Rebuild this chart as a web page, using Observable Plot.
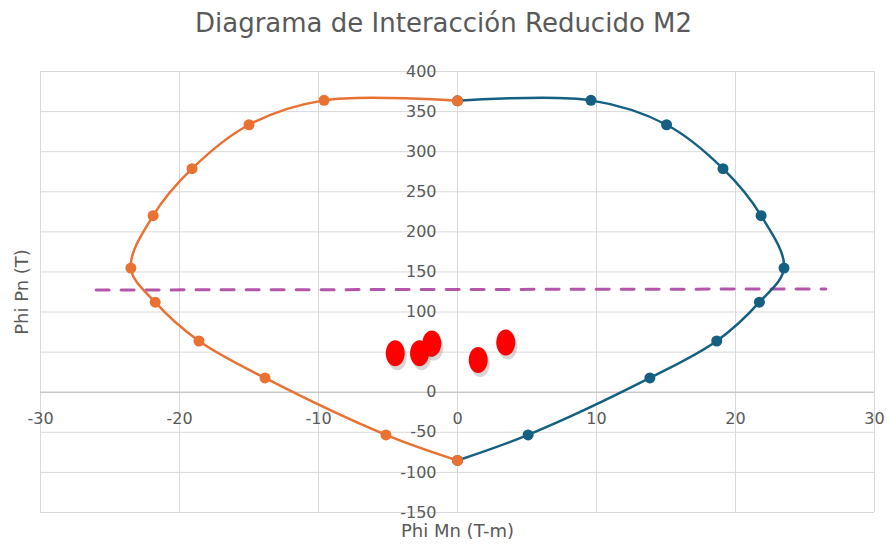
<!DOCTYPE html>
<html>
<head>
<meta charset="utf-8">
<script src="https://cdn.jsdelivr.net/npm/d3@7"></script>
<script src="https://cdn.jsdelivr.net/npm/@observablehq/plot@0.6"></script>
<style>
  html, body { margin: 0; padding: 0; background: #fff; }
  #title { height: 50px; line-height: 46px; text-align: center; font-family: "DejaVu Sans", sans-serif; font-size: 26px; color: #595959; white-space: nowrap; }
  svg { display: block; }
</style>
</head>
<body>
<div id="title">Diagrama de Interacción Reducido M2</div>
<div id="chart"></div>
<script>
// Left branch (orange), Phi Mn (T-m) and Phi Pn (T)
const orangeM = [0, -9.6, -15.0, -19.1, -21.9, -23.5, -21.75, -18.6, -13.85, -5.15, 0];
const orangeP = [363.5, 364, 333.6, 278.8, 220.2, 154.9, 112.3, 63.9, 17.8, -53.2, -85.1];
// Right branch (blue)
const blueM = [0, 9.6, 15.04, 19.1, 21.84, 23.49, 21.72, 18.65, 13.84, 5.08, 0];
const blueP = [363.5, 364, 333.6, 278.8, 220.2, 154.9, 112.3, 63.9, 17.8, -53.2, -85.1];
// Load points (red)
const redM = [-4.48, -2.73, -1.85, 1.49, 3.47];
const redP = [48.6, 48.6, 60.7, 40.3, 61.9];
// Dashed reference line
const lineM = [-26.0, 26.5];
const lineP = [127.5, 128.8];
// Ticks
const xTicks = [-30, -20, -10, 0, 10, 20, 30];
const yTicks = [-150, -100, -50, 0, 50, 100, 150, 200, 250, 300, 350, 400];

const toRows = (xs, ys) => xs.map((x, i) => ({x, y: ys[i]}));
const orange = toRows(orangeM, orangeP);
const blue = toRows(blueM, blueP);
const red = toRows(redM, redP);
const dashed = toRows(lineM, lineP);

const ellipse = {
  draw(ctx) {
    const rx = 9.5, ry = 13, k = 0.5523;
    ctx.moveTo(rx, 0);
    ctx.bezierCurveTo(rx, ry * k, rx * k, ry, 0, ry);
    ctx.bezierCurveTo(-rx * k, ry, -rx, ry * k, -rx, 0);
    ctx.bezierCurveTo(-rx, -ry * k, -rx * k, -ry, 0, -ry);
    ctx.bezierCurveTo(rx * k, -ry, rx, -ry * k, rx, 0);
    ctx.closePath();
  }
};

const ORANGE = "#e97132", BLUE = "#156082", PURPLE = "#a02b93", TXT = "#595959";
const font = "'DejaVu Sans', sans-serif";

const chart = Plot.plot({
  width: 887,
  height: 498,
  marginTop: 21,
  marginBottom: 36,
  marginLeft: 40,
  marginRight: 13,
  style: {fontFamily: font, color: TXT, background: "#fff"},
  x: {domain: [-30, 30], axis: null},
  y: {domain: [-150, 400], axis: null},
  marks: [
    Plot.gridX(xTicks, {stroke: "#d9d9d9", strokeOpacity: 1}),
    Plot.gridY(yTicks, {stroke: "#d9d9d9", strokeOpacity: 1}),
    Plot.ruleY([0], {stroke: "#bfbfbf", strokeWidth: 1.2}),
    Plot.text(xTicks, {x: d => d, y: 0, dy: 27, text: d => String(d), fill: TXT, fontSize: 16, textAnchor: "middle"}),
    Plot.text(yTicks, {x: 0, y: d => d, dx: -21, text: d => String(d), fill: TXT, fontSize: 16, textAnchor: "end"}),
    Plot.text(["Phi Mn (T-m)"], {frameAnchor: "bottom", dy: 19, lineAnchor: "middle", fill: TXT, fontSize: 18}),
    Plot.text(["Phi Pn (T)"], {frameAnchor: "left", dx: -18, rotate: -90, textAnchor: "middle", lineAnchor: "middle", fill: TXT, fontSize: 18}),
    Plot.line(dashed, {x: "x", y: "y", stroke: PURPLE, strokeWidth: 3, strokeDasharray: "13,12", strokeOpacity: 0.8}),
    Plot.line(blue, {x: "x", y: "y", stroke: BLUE, strokeWidth: 2.5, curve: "catmull-rom"}),
    Plot.dot(blue, {x: "x", y: "y", fill: BLUE, r: 5.5}),
    Plot.line(orange, {x: "x", y: "y", stroke: ORANGE, strokeWidth: 2.5, curve: "catmull-rom"}),
    Plot.dot(orange, {x: "x", y: "y", fill: ORANGE, r: 5.5}),
    Plot.dot(red, {x: "x", y: "y", symbol: ellipse, fill: "#999", fillOpacity: 0.4, dx: 2, dy: 4}),
    Plot.dot(red, {x: "x", y: "y", symbol: ellipse, fill: "#ff0000"})
  ]
});
document.getElementById("chart").append(chart);
</script>
</body>
</html>
